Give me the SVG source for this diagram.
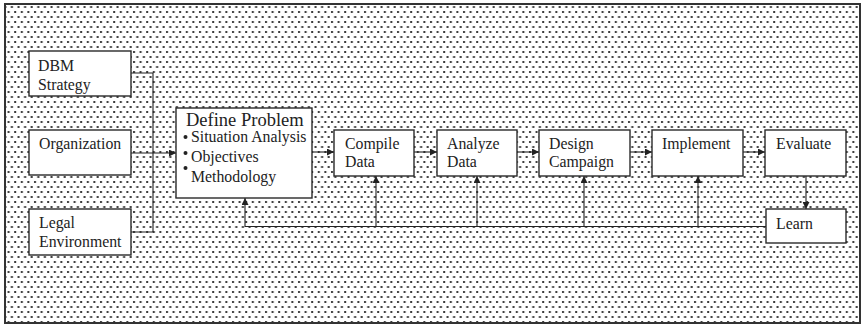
<svg xmlns="http://www.w3.org/2000/svg" width="864" height="327" viewBox="0 0 864 327">
<defs>
<pattern id="dots" x="0" y="0" width="6.6" height="10" patternUnits="userSpaceOnUse">
<rect x="1" y="1" width="2" height="2" fill="#3a3a3a"/>
<rect x="4.3" y="6" width="2" height="2" fill="#3a3a3a"/>
</pattern>
<marker id="arr" viewBox="0 0 10 10" refX="10" refY="5" markerWidth="7" markerHeight="7" markerUnits="userSpaceOnUse" orient="auto">
<path d="M0,0 L10,5 L0,10 z" fill="#222"/>
</marker>
<style>
.box{fill:#fff;stroke:#2a2a2a;stroke-width:1.4}
.t{font-family:"Liberation Serif","Times New Roman",serif;font-size:15.8px;fill:#222}
.title{font-size:18.5px}
.c{fill:none;stroke:#222;stroke-width:1.1}
.ca{fill:none;stroke:#222;stroke-width:1.1;marker-end:url(#arr)}
</style>
</defs>
<rect x="0" y="0" width="864" height="327" fill="#fff"/>
<rect x="5" y="4" width="855" height="319" fill="url(#dots)" stroke="#333" stroke-width="2"/>

<g id="connectors">
<polyline class="c" points="131,73 153,73 153,232 131,232"/>
<line class="ca" x1="131" y1="153" x2="176" y2="153"/>
<line class="ca" x1="312" y1="152" x2="334" y2="152"/>
<line class="ca" x1="414" y1="152" x2="437" y2="152"/>
<line class="ca" x1="517" y1="152" x2="539" y2="152"/>
<line class="ca" x1="630" y1="152" x2="652" y2="152"/>
<line class="ca" x1="743" y1="152" x2="765" y2="152"/>
<line class="ca" x1="806" y1="176" x2="806" y2="209"/>
<polyline class="ca" points="766,226.5 245,226.5 245,198"/>
<line class="ca" x1="376" y1="226.5" x2="376" y2="176"/>
<line class="ca" x1="477" y1="226.5" x2="477" y2="176"/>
<line class="ca" x1="584" y1="226.5" x2="584" y2="176"/>
<line class="ca" x1="698" y1="226.5" x2="698" y2="176"/>
</g>

<g id="dbm">
<rect class="box" x="29" y="51" width="102" height="45"/>
<text class="t" x="38" y="71">DBM</text>
<text class="t" x="38" y="89.5">Strategy</text>
</g>
<g id="organization">
<rect class="box" x="29" y="130" width="102" height="45"/>
<text class="t" x="39" y="149">Organization</text>
</g>
<g id="legal">
<rect class="box" x="29" y="209" width="102" height="46"/>
<text class="t" x="39" y="228">Legal</text>
<text class="t" x="39" y="247">Environment</text>
</g>
<g id="define">
<rect class="box" x="176" y="108" width="136" height="90"/>
<text class="t title" x="186" y="125.5">Define Problem</text>
<circle cx="185.5" cy="137" r="2" fill="#222"/>
<text class="t" x="191" y="142">Situation Analysis</text>
<circle cx="185.5" cy="153" r="2" fill="#222"/>
<text class="t" x="191" y="161.5">Objectives</text>
<circle cx="185.5" cy="168" r="2" fill="#222"/>
<text class="t" x="191" y="181.5">Methodology</text>
</g>
<g id="compile">
<rect class="box" x="334" y="130" width="80" height="46"/>
<text class="t" x="345" y="149">Compile</text>
<text class="t" x="345" y="167">Data</text>
</g>
<g id="analyze">
<rect class="box" x="437" y="130" width="80" height="46"/>
<text class="t" x="447" y="149">Analyze</text>
<text class="t" x="447" y="167">Data</text>
</g>
<g id="design">
<rect class="box" x="539" y="130" width="91" height="46"/>
<text class="t" x="549" y="149">Design</text>
<text class="t" x="549" y="167">Campaign</text>
</g>
<g id="implement">
<rect class="box" x="652" y="130" width="91" height="46"/>
<text class="t" x="662" y="149">Implement</text>
</g>
<g id="evaluate">
<rect class="box" x="765" y="130" width="81" height="46"/>
<text class="t" x="776" y="149">Evaluate</text>
</g>
<g id="learn">
<rect class="box" x="766" y="209" width="80" height="34"/>
<text class="t" x="776" y="229">Learn</text>
</g>
</svg>
